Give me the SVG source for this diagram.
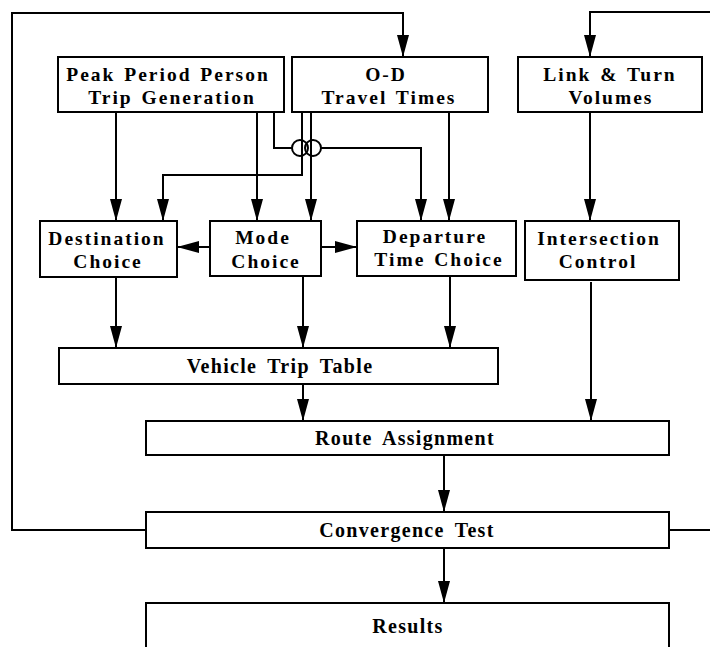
<svg xmlns="http://www.w3.org/2000/svg" width="710" height="647" viewBox="0 0 710 647">
<defs>
<marker id="ah" markerUnits="userSpaceOnUse" markerWidth="22" markerHeight="12" refX="22" refY="6" orient="auto">
<path d="M0,0 L22,6 L0,12 z" fill="#000"/>
</marker>
<style>
.box{fill:#fff;stroke:#000;stroke-width:2}
.t{font-family:"Liberation Serif","Times New Roman",serif;font-weight:bold;font-size:19.5px;letter-spacing:2px;word-spacing:2px;fill:#000;text-anchor:middle}
.s{font-size:20px;letter-spacing:1.3px;word-spacing:4px}
.c{fill:none;stroke:#000;stroke-width:2}
.a{fill:none;stroke:#000;stroke-width:2;marker-end:url(#ah)}
</style>
</defs>
<rect width="710" height="647" fill="#fff"/>
<g id="connectors">
<path class="a" d="M146,530 H12 V13 H403 V57"/>
<path class="a" d="M669,530 H712 V12 H590 V57"/>
<path class="a" d="M116,112 V221"/>
<path class="a" d="M302,112 V175 H163 V221"/>
<path class="a" d="M257,112 V221"/>
<path class="a" d="M311,112 V221"/>
<path class="c" d="M274,112 V148 H292"/>
<path class="a" d="M321,148 H421 V221"/>
<circle class="c" cx="300" cy="148" r="8"/>
<circle class="c" cx="313" cy="148" r="8"/>
<path class="a" d="M449,112 V221"/>
<path class="a" d="M590,112 V221"/>
<path class="a" d="M210,247 H177"/>
<path class="a" d="M321,247 H357"/>
<path class="a" d="M116,277 V348"/>
<path class="a" d="M303,277 V348"/>
<path class="a" d="M450,276 V348"/>
<path class="a" d="M303,384 V421"/>
<path class="a" d="M591,282 V421"/>
<path class="a" d="M444,455 V512"/>
<path class="a" d="M444,548 V603"/>
</g>
<g id="peak">
<rect class="box" x="58" y="57" width="226" height="55"/>
<text class="t" x="168" y="81">Peak Period Person</text>
<text class="t" x="172" y="104">Trip Generation</text>
</g>
<g id="od">
<rect class="box" x="292" y="57" width="196" height="55"/>
<text class="t" x="386" y="81">O-D</text>
<text class="t" x="389" y="104">Travel Times</text>
</g>
<g id="link">
<rect class="box" x="518" y="57" width="184" height="55"/>
<text class="t" x="610" y="81">Link &amp; Turn</text>
<text class="t" x="611" y="104">Volumes</text>
</g>
<g id="dest">
<rect class="box" x="40" y="221" width="137" height="56"/>
<text class="t" x="107" y="245">Destination</text>
<text class="t" x="108" y="268">Choice</text>
</g>
<g id="mode">
<rect class="box" x="210" y="221" width="111" height="55"/>
<text class="t" x="263" y="244">Mode</text>
<text class="t" x="266" y="268">Choice</text>
</g>
<g id="depart">
<rect class="box" x="357" y="221" width="159" height="55"/>
<text class="t" x="435" y="243">Departure</text>
<text class="t" x="439" y="266">Time Choice</text>
</g>
<g id="intersection">
<rect class="box" x="525" y="221" width="154" height="59"/>
<text class="t" x="599" y="245">Intersection</text>
<text class="t" x="598" y="268">Control</text>
</g>
<g id="vtt">
<rect class="box" x="59" y="348" width="439" height="36"/>
<text class="t s" x="280" y="373">Vehicle Trip Table</text>
</g>
<g id="route">
<rect class="box" x="146" y="421" width="523" height="34"/>
<text class="t s" x="405" y="445">Route Assignment</text>
</g>
<g id="conv">
<rect class="box" x="146" y="512" width="523" height="36"/>
<text class="t s" x="407" y="537">Convergence Test</text>
</g>
<g id="results">
<rect class="box" x="146" y="603" width="523" height="60"/>
<text class="t s" x="408" y="633">Results</text>
</g>
</svg>
